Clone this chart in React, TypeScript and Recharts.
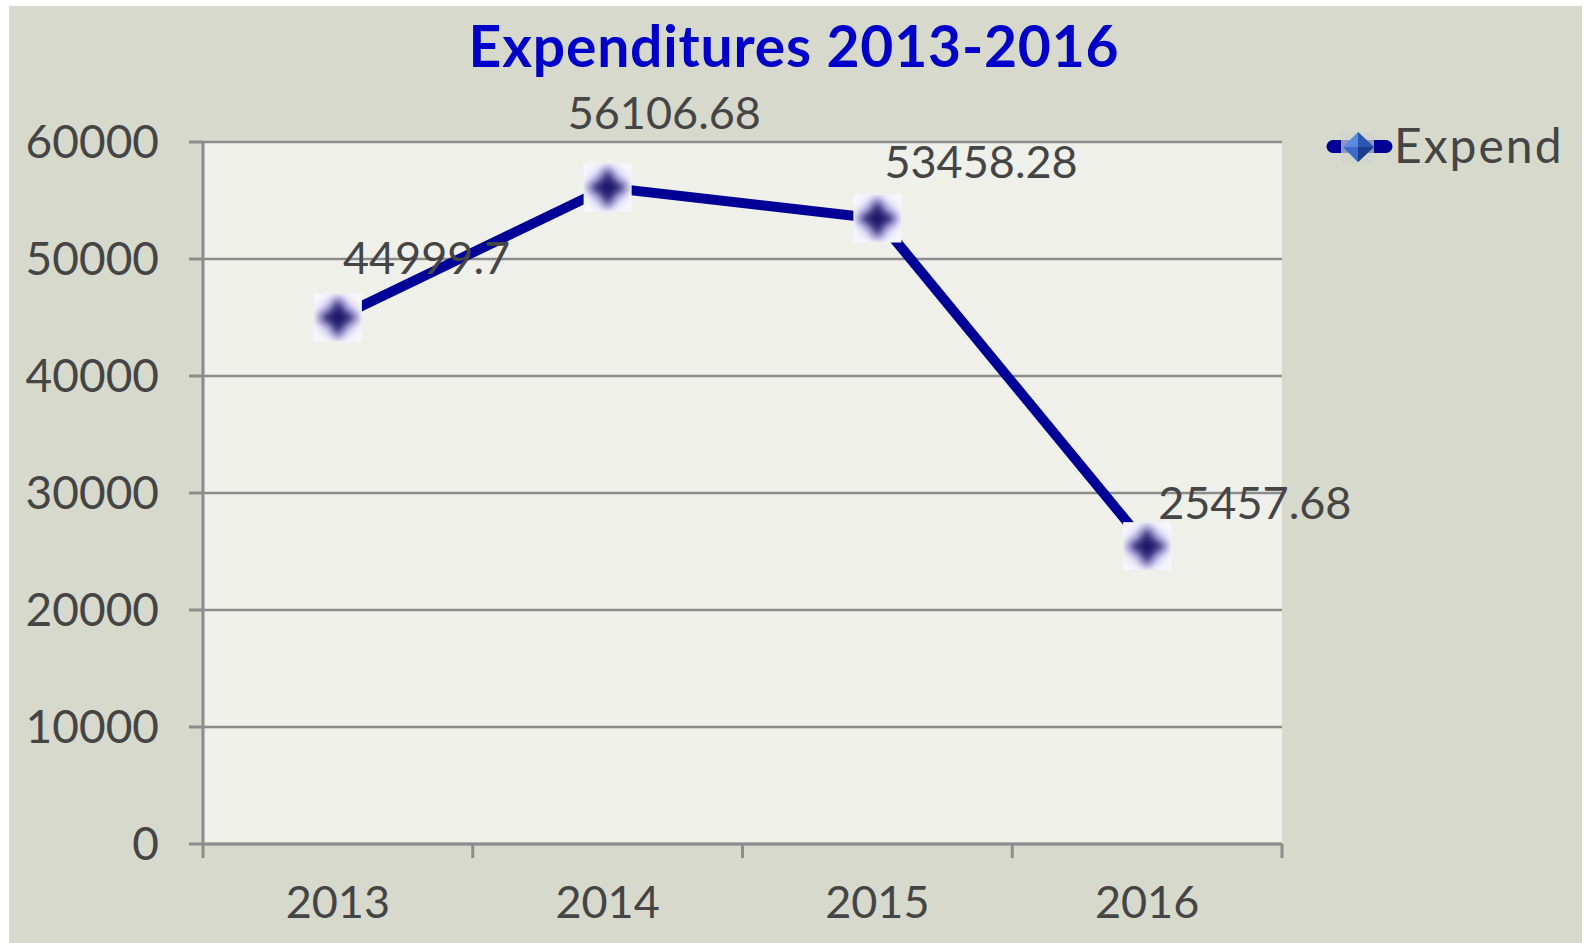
import React from 'react';
import { LineChart, Line, XAxis, YAxis, CartesianGrid, LabelList } from 'recharts';

const years = ['2013', '2014', '2015', '2016'];
const expend = [44999.7, 56106.68, 53458.28, 25457.68];
const yTicks = [0, 10000, 20000, 30000, 40000, 50000, 60000];
const seriesName = 'Expend';
const title = 'Expenditures 2013-2016';

// label nudges (px) so the values sit where Excel put them
const labelDx = [5, -40, 7, 11];
const labelDy = [-44, -59, -41, -27];

const W = 1573;
const H = 937;
const FONT = 'Lato, "Open Sans", sans-serif';
const TEXT = '#454545';
const GRID = '#8c8c8c';
const LINE = '#000096';
const HALF_CAT = (1273 - 194) / 8;

const data = years.map((y, i) => ({ x: i + 0.5, year: y, value: expend[i] }));

const XTick = (props: any) => {
  const { x, y, payload } = props;
  const idx = payload.value;
  if (idx >= years.length) return null;
  return (
    <text x={x + HALF_CAT} y={y} dy="0.71em" textAnchor="middle" fill={TEXT} fontSize={45} fontFamily={FONT}>
      {years[idx]}
    </text>
  );
};

const Marker = (props: any) => {
  const { cx, cy, index } = props;
  if (cx == null || cy == null) return null;
  const id = 'blur' + index;
  return (
    <g>
      <defs>
        <filter id={id} x="-50%" y="-50%" width="200%" height="200%">
          <feGaussianBlur stdDeviation="4" />
        </filter>
        <clipPath id={'clip' + index}>
          <rect x={cx - 24} y={cy - 24} width={48} height={48} />
        </clipPath>
      </defs>
      <rect x={cx - 24} y={cy - 24} width={48} height={48} fill="#f7f6fd" />
      <g clipPath={`url(#clip${index})`}>
        <circle cx={cx} cy={cy} r={20} fill="#b9b0ee" filter={`url(#${id})`} opacity={0.7} />
        <path
          d={`M${cx} ${cy - 21} L${cx + 7} ${cy - 7} L${cx + 21} ${cy} L${cx + 7} ${cy + 7} L${cx} ${cy + 21} L${cx - 7} ${cy + 7} L${cx - 21} ${cy} L${cx - 7} ${cy - 7} Z`}
          fill="#1a1268"
          filter={`url(#${id})`}
        />
      </g>
    </g>
  );
};

const ValueLabel = (props: any) => {
  const { x, y, value, index } = props;
  return (
    <text x={x + labelDx[index]} y={y + labelDy[index]} fill={TEXT} fontSize={45} fontFamily={FONT} textAnchor="start">
      {value}
    </text>
  );
};

export default function App() {
  return (
    <div style={{ position: 'absolute', left: 9, top: 6, width: W, height: H, background: '#d6d9cb' }}>
      <LineChart width={W} height={H} data={data} margin={{ top: 136, right: 300, bottom: 0, left: 0 }}>
        <CartesianGrid vertical={false} stroke={GRID} strokeWidth={2.5} fill="#eff0ea" />
        <XAxis
          dataKey="x"
          type="number"
          domain={[0, 4]}
          ticks={[0, 1, 2, 3, 4]}
          height={99}
          tickSize={14}
          tickMargin={28}
          stroke={GRID}
          strokeWidth={3}
          tickLine={{ stroke: GRID, strokeWidth: 3 }}
          tick={<XTick />}
          interval={0}
        />
        <YAxis
          type="number"
          domain={[0, 60000]}
          ticks={yTicks}
          width={194}
          tickSize={14}
          tickMargin={30}
          stroke={GRID}
          strokeWidth={3}
          tickLine={{ stroke: GRID, strokeWidth: 3 }}
          tick={{ fill: TEXT, fontSize: 46, fontFamily: FONT }}
          interval={0}
        />
        <Line
          dataKey="value"
          name={seriesName}
          stroke={LINE}
          strokeWidth={10}
          dot={<Marker />}
          activeDot={false}
          isAnimationActive={false}
        >
          <LabelList dataKey="value" content={<ValueLabel />} />
        </Line>
      </LineChart>
      <svg width={W} height={H} style={{ position: 'absolute', left: 0, top: 0, pointerEvents: 'none' }}>
        <text x={785} y={61} textAnchor="middle" fill="#0000c8" fontSize={57} fontWeight="bold" fontFamily={FONT} letterSpacing={0.8}>
          {title}
        </text>
        <g>
          <line x1={1324} y1={140.5} x2={1377} y2={140.5} stroke={LINE} strokeWidth={13} strokeLinecap="round" />
          <rect x={1332} y={125} width={33} height={33} fill="#d0d4cc" opacity={0.7} />
          <path d="M1349 126 L1365 141 L1349 156 L1334 141 Z" fill="#5c8ae0" />
          <path d="M1349 126 L1365 141 L1349 141 Z" fill="#2c56b0" />
          <path d="M1349 141 L1365 141 L1349 156 Z" fill="#1c3d8c" />
          <path d="M1334 141 L1349 141 L1349 156 Z" fill="#3d6cc8" />
        </g>
        <text x={1385} y={157} fill={TEXT} fontSize={48} fontFamily={FONT} letterSpacing={2}>
          {seriesName}
        </text>
      </svg>
    </div>
  );
}
